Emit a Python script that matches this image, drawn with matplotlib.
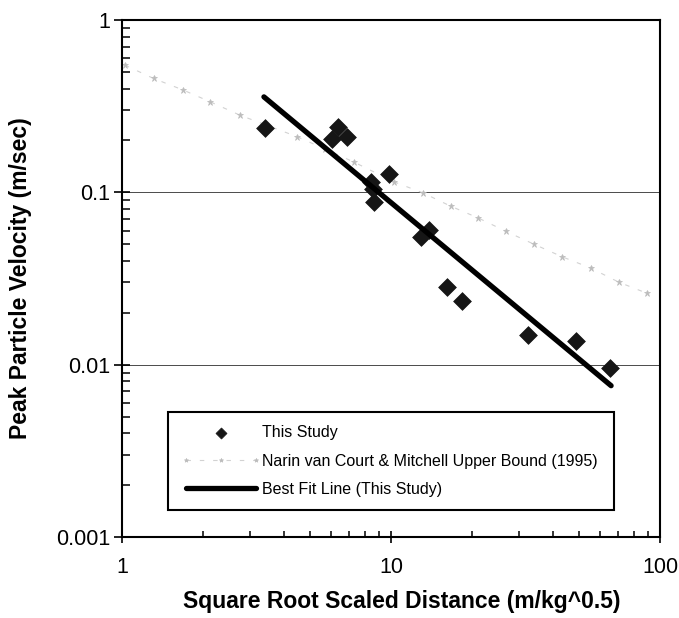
import matplotlib
matplotlib.use("Agg")
import matplotlib.pyplot as plt
from matplotlib.ticker import LogLocator, FixedLocator, FixedFormatter, NullFormatter

plt.rcParams['font.family'] = ['Liberation Sans', 'DejaVu Sans']

# ---- data ----
study_sd = [3.40, 6.01, 6.33, 6.85, 8.42, 8.55, 8.67, 9.86, 12.9, 13.8, 16.2, 18.4, 32.4, 48.7, 65.3]
study_ppv = [0.237, 0.205, 0.240, 0.210, 0.115, 0.105, 0.088, 0.127, 0.055, 0.0607, 0.0281, 0.0233, 0.0149, 0.0138, 0.0096]

fit_sd = [3.37, 65.8]
fit_ppv = [0.358, 0.00755]

narin_sd = [1.026, 1.31, 1.69, 2.13, 2.75, 3.5, 4.49, 5.7, 7.27, 10.27, 13.2, 16.7, 21.1, 26.8, 34.1, 43.4, 55.2, 70.3, 89.8]
narin_ppv = [0.547, 0.458, 0.392, 0.335, 0.280, 0.243, 0.210, 0.178, 0.150, 0.115, 0.099, 0.083, 0.071, 0.0593, 0.0499, 0.0422, 0.0364, 0.0301, 0.0259]

x_ticks = [1, 10, 100]
x_tick_labels = ['1', '10', '100']
y_ticks = [0.001, 0.01, 0.1, 1]
y_tick_labels = ['0.001', '0.01', '0.1', '1']
grid_levels = [0.01, 0.1]

fig = plt.figure(figsize=(6.79, 6.18), dpi=100)
ax = fig.add_axes([122/679, 1-537/618, 538/679, 517/618])

ax.set_xscale('log')
ax.set_yscale('log')
ax.set_xlim(1, 100)
ax.set_ylim(0.001, 1)

for g in grid_levels:
    ax.axhline(g, color='#4a4a4a', lw=0.7, zorder=1)

ax.plot(narin_sd, narin_ppv, color='#d2d2d2', lw=0.8, ls=(0, (4, 8)),
        marker='*', markersize=5, markerfacecolor='#bcbcbc', markeredgecolor='#bcbcbc',
        markeredgewidth=0.5,
        label='Narin van Court & Mitchell Upper Bound (1995)', zorder=2)
ax.scatter(study_sd, study_ppv, marker='D', s=82, color='#161616', edgecolors='#161616',
           linewidths=0.5, label='This Study', zorder=3)
ax.plot(fit_sd, fit_ppv, color='black', lw=3.8, solid_capstyle='round',
        label='Best Fit Line (This Study)', zorder=4)

for s in ax.spines.values():
    s.set_linewidth(1.5)
    s.set_color('black')

ax.xaxis.set_major_locator(FixedLocator(x_ticks))
ax.xaxis.set_major_formatter(FixedFormatter(x_tick_labels))
ax.yaxis.set_major_locator(FixedLocator(y_ticks))
ax.yaxis.set_major_formatter(FixedFormatter(y_tick_labels))
ax.xaxis.set_minor_locator(LogLocator(base=10, subs=range(2, 10)))
ax.yaxis.set_minor_locator(LogLocator(base=10, subs=range(2, 10)))
ax.xaxis.set_minor_formatter(NullFormatter())
ax.yaxis.set_minor_formatter(NullFormatter())

ax.tick_params(axis='x', which='major', direction='inout', length=9, width=1.2,
               labelsize=15.5, pad=10, top=False)
ax.tick_params(axis='x', which='minor', direction='in', length=4, width=1.1, top=False)
ax.tick_params(axis='y', which='major', direction='inout', length=11, width=1.2,
               labelsize=15.5, pad=3, right=False)
ax.tick_params(axis='y', which='minor', direction='in', length=5.5, width=1.1, right=False)

ax.set_xlabel('Square Root Scaled Distance (m/kg^0.5)', fontsize=16.5, fontweight='bold')
ax.set_ylabel('Peak Particle Velocity (m/sec)', fontsize=16.5, fontweight='bold')
ax.xaxis.set_label_coords((402-122)/538, -(590-537)/517)
ax.yaxis.set_label_coords(-(122-32)/538, 0.5)

h, l = ax.get_legend_handles_labels()
order = [l.index('This Study'), l.index('Narin van Court & Mitchell Upper Bound (1995)'),
         l.index('Best Fit Line (This Study)')]
leg = ax.legend([h[i] for i in order], [l[i] for i in order],
                bbox_to_anchor=(0.0855, 0.0503, 0.829, 0.1934), loc='center', mode='expand',
                fontsize=11.5, frameon=True, fancybox=False, framealpha=1,
                edgecolor='black', handlelength=5.0, handletextpad=0.1,
                labelspacing=0.85, borderpad=0.8, borderaxespad=0,
                numpoints=3, scatterpoints=1, markerscale=0.62)
leg.get_frame().set_linewidth(1.5)
leg.set_zorder(5)

fig.savefig('out.png', dpi=100)
